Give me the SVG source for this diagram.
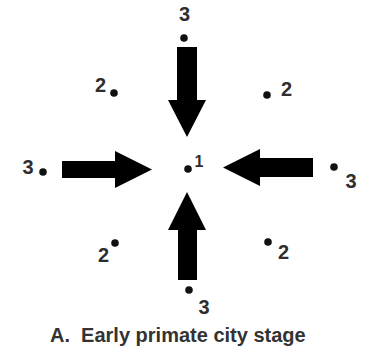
<svg xmlns="http://www.w3.org/2000/svg" width="366" height="351" viewBox="0 0 366 351">
<style>
.lbl{font-family:"Liberation Sans",Arial,sans-serif;font-weight:bold;font-size:20px;fill:#2e2e2e;text-anchor:middle}
.small{font-size:16px}
.dot{fill:#111}
.arrow{fill:#000}
.title{font-family:"Liberation Sans",Arial,sans-serif;font-weight:bold;font-size:20px;fill:#333}
</style>
<rect width="366" height="351" fill="#fff"/>
<g id="connectors">
<polygon class="arrow" points="177,47 197,47 197,100 206,100 187,137 168,100 177,100"/>
<polygon class="arrow" points="62,161 115,161 115,151 152,169.5 115,188 115,178 62,178"/>
<polygon class="arrow" points="313,158 260,158 260,149 223,167.5 260,186 260,177 313,177"/>
<polygon class="arrow" points="187,192 206,230 197,230 197,280 178,280 178,230 168,230"/>
</g>
<g id="node-center">
<circle class="dot" cx="188" cy="169" r="3.8"/>
<text class="lbl small" x="199" y="167">1</text>
</g>
<g id="node-top">
<circle class="dot" cx="184" cy="38" r="3.8"/>
<text class="lbl" x="184.5" y="21">3</text>
</g>
<g id="node-left">
<circle class="dot" cx="43" cy="172" r="3.8"/>
<text class="lbl" x="28" y="174">3</text>
</g>
<g id="node-right">
<circle class="dot" cx="334" cy="167" r="3.8"/>
<text class="lbl" x="351" y="188">3</text>
</g>
<g id="node-bottom">
<circle class="dot" cx="189" cy="290" r="3.8"/>
<text class="lbl" x="204" y="314">3</text>
</g>
<g id="node-top-left">
<circle class="dot" cx="114" cy="93" r="3.8"/>
<text class="lbl" x="100.5" y="92">2</text>
</g>
<g id="node-top-right">
<circle class="dot" cx="267" cy="95" r="3.8"/>
<text class="lbl" x="286.5" y="96">2</text>
</g>
<g id="node-bottom-left">
<circle class="dot" cx="115" cy="243" r="3.8"/>
<text class="lbl" x="103.5" y="262">2</text>
</g>
<g id="node-bottom-right">
<circle class="dot" cx="268" cy="242" r="3.8"/>
<text class="lbl" x="283.5" y="259">2</text>
</g>
<g id="caption">
<text class="title" x="50" y="342" xml:space="preserve">A.  Early primate city stage</text>
</g>
</svg>
